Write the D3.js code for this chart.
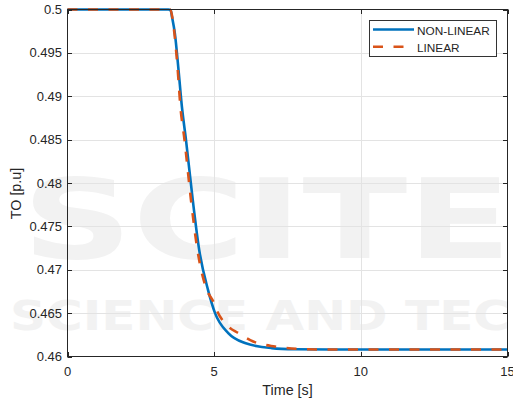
<!DOCTYPE html>
<html><head><meta charset="utf-8">
<script src="https://cdn.jsdelivr.net/npm/d3@7"></script>
<style>body{margin:0;background:#fff}svg{display:block}</style>
</head><body>
<script>
// ---- data ----
const nlTime  = [0, 3.44, 3.52, 3.56, 3.66, 3.775, 3.90, 4.04, 4.27, 4.49, 4.79, 5.03, 5.48, 6.05, 6.96, 7.75, 9.0, 15];
const nlValue = [0.5, 0.5, 0.4999, 0.4992, 0.49724, 0.49339, 0.48879, 0.48495, 0.47804, 0.47228, 0.46768, 0.46500, 0.46270, 0.46155, 0.46097, 0.46084, 0.46080, 0.46080];
const linTime  = [0, 3.50, 3.59, 3.645, 3.75, 3.85, 3.99, 4.21, 4.43, 4.75, 4.97, 5.08, 5.48, 5.82, 6.33, 7.07, 7.81, 8.94, 15];
const linValue = [0.5, 0.5, 0.49877, 0.49724, 0.49339, 0.48879, 0.48495, 0.47804, 0.47228, 0.46768, 0.46633, 0.46538, 0.46346, 0.46270, 0.46173, 0.46115, 0.46089, 0.46080, 0.46080];
const seriesNames = ["NON-LINEAR", "LINEAR"];
const xTicks = [0, 5, 10, 15];
const xTickLabels = ["0", "5", "10", "15"];
const yTicks = [0.46, 0.465, 0.47, 0.475, 0.48, 0.485, 0.49, 0.495, 0.5];
const yTickLabels = ["0.46", "0.465", "0.47", "0.475", "0.48", "0.485", "0.49", "0.495", "0.5"];

const W = 513, H = 403;
const L = 67.5, R = 507.5, T = 9.5, B = 356.5;
const font = "'Liberation Sans', Arial, Helvetica, sans-serif";
const svg = d3.select("body").append("svg").attr("width", W).attr("height", H);

const x = d3.scaleLinear().domain([0, 15]).range([L, R]);
const y = d3.scaleLinear().domain([0.46, 0.5]).range([B, T]);

// faint publisher watermark
const wm = svg.append("g").attr("fill", "#f2f2f2").attr("font-family", "'DejaVu Sans', sans-serif").attr("font-weight", "bold");
wm.append("text").attr("x", 22).attr("y", 258).attr("font-size", 110)
  .attr("textLength", 490).attr("lengthAdjust", "spacingAndGlyphs").text("SCITE");
wm.append("text").attr("x", 10).attr("y", 330).attr("font-size", 40)
  .attr("textLength", 500).attr("lengthAdjust", "spacingAndGlyphs").text("SCIENCE AND TEC");

// grid
const grid = svg.append("g").attr("stroke", "#e3e3e3").attr("stroke-width", 1);
grid.selectAll(".gx").data(xTicks.slice(1, -1)).join("line")
  .attr("x1", d => Math.round(x(d)) + 0.5).attr("x2", d => Math.round(x(d)) + 0.5)
  .attr("y1", T).attr("y2", B);
grid.selectAll(".gy").data(yTicks.slice(1, -1)).join("line")
  .attr("y1", d => Math.round(y(d)) + 0.5).attr("y2", d => Math.round(y(d)) + 0.5)
  .attr("x1", L).attr("x2", R);

// lines
const nl = nlTime.map((t, i) => [t, nlValue[i]]);
const li = linTime.map((t, i) => [t, linValue[i]]);
const line = d3.line().x(d => x(d[0])).y(d => y(d[1])).curve(d3.curveMonotoneX);
svg.append("path").datum(nl).attr("d", line).attr("fill", "none")
  .attr("stroke", "#0072BD").attr("stroke-width", 2.6);
svg.append("path").datum(li).attr("d", line).attr("fill", "none")
  .attr("stroke", "#D95319").attr("stroke-width", 2.6).attr("stroke-dasharray", "10,10.5");

// axes box + ticks
const ax = svg.append("g").attr("stroke", "#262626").attr("stroke-width", 1).attr("fill", "none");
ax.append("rect").attr("x", L).attr("y", T).attr("width", R - L).attr("height", B - T);
const tl = 4.5;
xTicks.forEach(d => {
  const px = Math.round(x(d)) + 0.5;
  ax.append("line").attr("x1", px).attr("x2", px).attr("y1", B).attr("y2", B - tl);
  ax.append("line").attr("x1", px).attr("x2", px).attr("y1", T).attr("y2", T + tl);
});
yTicks.forEach(d => {
  const py = Math.round(y(d)) + 0.5;
  ax.append("line").attr("y1", py).attr("y2", py).attr("x1", L).attr("x2", L + tl);
  ax.append("line").attr("y1", py).attr("y2", py).attr("x1", R).attr("x2", R - tl);
});

// tick labels
const tg = svg.append("g").attr("font-family", font).attr("font-size", 13).attr("fill", "#262626");
tg.selectAll(".xl").data(xTicks).join("text")
  .attr("x", d => x(d)).attr("y", 376).attr("text-anchor", "middle")
  .text((d, i) => xTickLabels[i]);
tg.selectAll(".yl").data(yTicks).join("text")
  .attr("x", 62).attr("y", d => y(d) + 4.6).attr("text-anchor", "end")
  .text((d, i) => yTickLabels[i]);

// axis labels
svg.append("text").attr("x", (L + R) / 2).attr("y", 395).attr("text-anchor", "middle")
  .attr("font-family", font).attr("font-size", 14.3).attr("fill", "#262626").text("Time [s]");
svg.append("text").attr("transform", "translate(20.5,193.5) rotate(-90)").attr("text-anchor", "middle")
  .attr("font-family", font).attr("font-size", 14.3).attr("fill", "#262626").text("TO [p.u]");

// legend
const lg = svg.append("g");
lg.append("rect").attr("x", 369.5).attr("y", 20.5).attr("width", 127).attr("height", 36)
  .attr("fill", "#fff").attr("stroke", "#333").attr("stroke-width", 1);
const legendColors = ["#0072BD", "#D95319"];
const legendDash = [null, "10,10.5"];
seriesNames.forEach((name, i) => {
  const ly = 29.5 + i * 17.2;
  lg.append("line").attr("x1", 373).attr("x2", 414).attr("y1", ly).attr("y2", ly)
    .attr("stroke", legendColors[i]).attr("stroke-width", 2.6).attr("stroke-dasharray", legendDash[i]);
  lg.append("text").attr("x", 417).attr("y", ly + 5.3).attr("font-family", font)
    .attr("font-size", 11.8).attr("fill", "#262626").text(name);
});
</script>
</body></html>
